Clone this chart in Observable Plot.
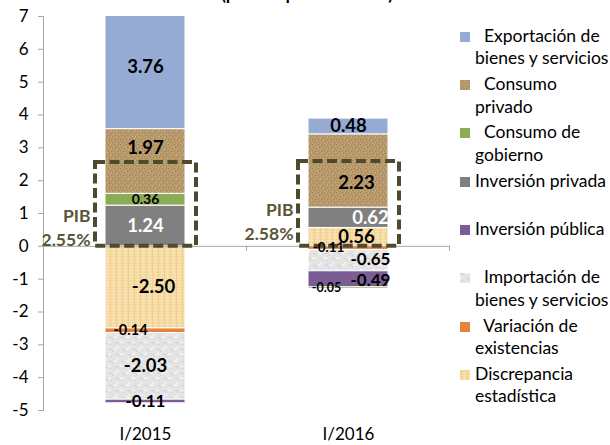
<!DOCTYPE html>
<html>
<head>
<meta charset="utf-8">
<script src="https://cdn.jsdelivr.net/npm/d3@7"></script>
<script src="https://cdn.jsdelivr.net/npm/@observablehq/plot@0.6"></script>
<style>
  html, body { margin: 0; padding: 0; background: #fff; }
  #wrap { position: relative; width: 610px; height: 445px; overflow: hidden; font-family: Lato, "Open Sans", sans-serif; }
  #wrap > svg { position: absolute; left: 0; top: 0; }
  .item { position: absolute; left: 459px; font-size: 17.5px; line-height: 22.5px; color: #000; white-space: nowrap; }
  .item svg { position: absolute; left: 0; top: 6px; }
  .item .txt { position: absolute; left: 16px; top: 0; }
</style>
</head>
<body>
<div id="wrap"></div>
<script>
// ---- data ----
const periods = ["I/2015", "I/2016"];
const seriesNames = [
  "Discrepancia estadística",
  "Variación de existencias",
  "Importación de bienes y servicios",
  "Inversión pública",
  "Inversión privada",
  "Consumo de gobierno",
  "Consumo privado",
  "Exportación de bienes y servicios"
];
const values2015 = [-2.50, -0.14, -2.03, -0.11, 1.24, 0.36, 1.97, 3.76];
const values2016 = [0.56, -0.11, -0.65, -0.49, 0.62, -0.05, 2.23, 0.48];
const gdpGrowth = [2.55, 2.58];
const yTicks = [-5, -4, -3, -2, -1, 0, 1, 2, 3, 4, 5, 6, 7];
const titleText = "(puntos porcentuales)";
const legendLines = [
  ["\u00a0\u00a0Exportación de", "bienes y servicios"],
  ["\u00a0\u00a0Consumo", "privado"],
  ["\u00a0\u00a0Consumo de", "gobierno"],
  ["Inversión privada"],
  ["Inversión pública"],
  ["\u00a0\u00a0Importación de", "bienes y servicios"],
  ["\u00a0\u00a0Variación de", "existencias"],
  ["Discrepancia", "estadística"]
];
const legendOrder = seriesNames.slice().reverse();

// ---- styles (kept apart from data) ----
const seriesFills = [
  "url(#pat-discrep)", "#e5823e", "url(#pat-import)", "#7b5c94",
  "#808080", "#8bab55", "url(#pat-burlap)", "#95abd3"
];
const labelNudge = {
  "I/2015|Consumo privado": {dy: -13},
  "I/2015|Consumo de gobierno": {size: 14},
  "I/2015|Inversión privada": {color: "#fff"},
  "I/2015|Discrepancia estadística": {dx: 8},
  "I/2015|Variación de existencias": {dx: -15, size: 14.5},
  "I/2015|Inversión pública": {size: 17},
  "I/2016|Consumo privado": {dx: 8, dy: 12},
  "I/2016|Inversión privada": {dx: 22, color: "#fff"},
  "I/2016|Discrepancia estadística": {dx: 8},
  "I/2016|Variación de existencias": {dx: -20, size: 13.5},
  "I/2016|Importación de bienes y servicios": {dx: 22, dy: -1, size: 17},
  "I/2016|Inversión pública": {dx: 22, dy: 1, size: 17},
  "I/2016|Consumo de gobierno": {dx: -22, size: 12.5}
};
const pibNudge = {"I/2015": -20, "I/2016": -26};

// ---- tables ----
const valuesByPeriod = [values2015, values2016];
const rows = periods.flatMap((p, i) => seriesNames.map((s, j) => ({period: p, series: s, value: valuesByPeriod[i][j]})));
const gdpRows = periods.map((p, i) => ({period: p, gdp: gdpGrowth[i], text: "PIB\n" + gdpGrowth[i].toFixed(2) + "%"}));

const styleOf = d => JSON.stringify(Object.assign({dx: 0, dy: 0, size: 18.5, color: "#000"}, labelNudge[d.period + "|" + d.series] || {}));
const styleKeys = Array.from(new Set(rows.map(styleOf)));
const labelMarks = styleKeys.map(key => {
  const st = JSON.parse(key);
  return Plot.text(rows, Plot.filter(d => styleOf(d) === key, Plot.stackY({
    x: "period", y: "value", z: "series", order: seriesNames,
    text: d => d.value.toFixed(2),
    dx: st.dx, dy: st.dy, fontSize: st.size, fill: st.color, fontWeight: "bold"
  })));
});
const pibMarks = periods.map(p => Plot.text(gdpRows, {
  filter: d => d.period === p,
  x: "period", y: 0, text: "text", textAnchor: "end", lineAnchor: "middle",
  lineHeight: 1.4, dx: -55, dy: pibNudge[p], fontSize: 17.5, fontWeight: "bold", fill: "#5b5637"
}));

const plot = Plot.plot({
  width: 610, height: 445,
  marginTop: 16, marginBottom: 35, marginLeft: 43, marginRight: 160,
  style: {fontFamily: "Lato, 'Open Sans', sans-serif", fontSize: "17px", background: "transparent"},
  x: {domain: periods, paddingInner: 0.607, paddingOuter: 0.3035, label: null},
  y: {domain: [-5, 7], label: null},
  color: {domain: seriesNames, range: seriesFills},
  marks: [
    Plot.barY(rows, Plot.stackY({x: "period", y: "value", fill: "series", order: seriesNames, stroke: "#fff", strokeWidth: 1, clip: true})),
    Plot.frame({anchor: "left", stroke: "#a6a6a6"}),
    Plot.ruleY([0], {stroke: "#a6a6a6"}),
    Plot.axisY({ticks: yTicks, tickSize: 5, tickPadding: 10, tickFormat: String, stroke: "#a6a6a6", fill: "#000", fontSize: 17}),
    Plot.axisX({tickSize: 0, tickPadding: 17, fill: "#000", fontSize: 17}),
    Plot.barY(gdpRows, {x: "period", y1: 0, y2: "gdp", fill: "none", stroke: "#4f4a2d", strokeWidth: 4, strokeDasharray: "10,4.5", insetLeft: -10, insetRight: -11}),
    ...pibMarks,
    ...labelMarks
  ]
});

// patterns
const svg = d3.select(plot);
const defs = svg.insert("defs", ":first-child");
function pattern(id, size, base, dots) {
  const p = defs.append("pattern").attr("id", id).attr("patternUnits", "userSpaceOnUse").attr("width", size).attr("height", size);
  p.append("rect").attr("width", size).attr("height", size).attr("fill", base);
  dots.forEach(([x, y, w, h, c]) => p.append("rect").attr("x", x).attr("y", y).attr("width", w).attr("height", h).attr("fill", c));
}
pattern("pat-burlap", 6, "#b7996b", [
  [0,0,1,1,"#9d7f52"],[3,1,1,1,"#9d7f52"],[1,3,1,1,"#a48658"],[4,4,1,1,"#9d7f52"],
  [2,0,1,1,"#caae80"],[5,2,1,1,"#caae80"],[0,5,1,1,"#c7ab7d"],[3,4,1,1,"#cfb487"]
]);
pattern("pat-discrep", 6, "#f4d89d", [
  [0,0,6,1,"#f8e4b8"],[0,3,6,1,"#f8e4b8"],[2,0,1,6,"#efcf8e"],[5,0,1,6,"#f8e2b3"]
]);
pattern("pat-import", 12, "#e4e4e4", [
  [1,1,3,1,"#d2d2d2"],[4,2,1,2,"#d6d6d6"],[7,6,3,1,"#d0d0d0"],[10,7,1,2,"#d5d5d5"],
  [2,8,2,1,"#d8d8d8"],[6,0,3,2,"#f1f1f1"],[0,5,3,2,"#f2f2f2"],[8,10,3,2,"#efefef"]
]);

// category boundary ticks on the zero line
const sx = plot.scale("x"), sy = plot.scale("y");
const half = (sx.step - sx.bandwidth) / 2;
const bounds = periods.map(p => sx.apply(p) - half).concat([sx.apply(periods[periods.length - 1]) + sx.bandwidth + half]);
const y0 = sy.apply(0);
svg.append("g").attr("stroke", "#a6a6a6").selectAll("line").data(bounds).join("line")
  .attr("x1", d => d).attr("x2", d => d).attr("y1", y0).attr("y2", y0 + 5);

// cut-off title at top
svg.append("text").attr("x", 307).attr("y", 0).attr("text-anchor", "middle")
  .attr("font-size", 18).attr("font-weight", "bold").attr("fill", "#000").text(titleText);

const wrap = document.getElementById("wrap");
wrap.appendChild(plot);

// legend
const color = plot.scale("color");
legendOrder.forEach((name, i) => {
  const item = document.createElement("div");
  item.className = "item";
  item.style.top = (36 + i * 48.3 - 11.25) + "px";
  const fill = color.apply(name);
  item.innerHTML = `<svg width="12" height="12"><rect x="0.5" y="0.5" width="11" height="11" fill="${fill}" stroke="#fff" stroke-width="1"></rect></svg>`;
  const txt = document.createElement("div");
  txt.className = "txt";
  txt.innerHTML = legendLines[i].join("<br>");
  item.appendChild(txt);
  wrap.appendChild(item);
});
</script>
</body>
</html>
